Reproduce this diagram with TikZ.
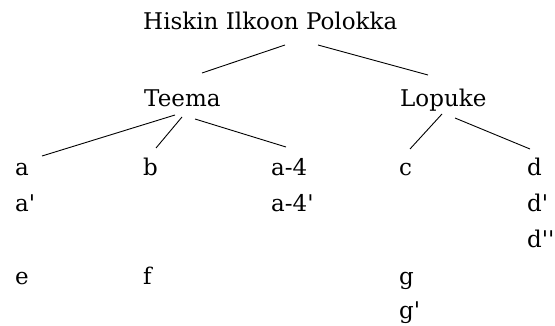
\documentclass[tikz,border=0pt]{standalone}
\usepackage{fontspec}
\setmainfont{DejaVu Serif}[Ligatures=TeXOff]
\begin{document}
\begin{tikzpicture}[x=1pt,y=-1pt,
  lbl/.style={anchor=base west,inner sep=0pt,font=\fontsize{23}{27}\selectfont},
  edge/.style={line width=0.9pt}]
\useasboundingbox (0,0) rectangle (555,326);
% texts
\node[lbl] (title) at (143,30) {Hiskin Ilkoon Polokka};
\node[lbl] (teema) at (144,107) {Teema};
\node[lbl] (lopuke) at (400,107) {Lopuke};
\node[lbl] (a) at (15,176) {a};
\node[lbl] (a1) at (15,212) {a'};
\node[lbl] (e) at (15,284) {e};
\node[lbl] (b) at (143,176) {b};
\node[lbl] (f) at (143,284) {f};
\node[lbl] (a4) at (271,176) {a-4};
\node[lbl] (a41) at (271,212) {a-4'};
\node[lbl] (c) at (399,176) {c};
\node[lbl] (g) at (399,284) {g};
\node[lbl] (g1) at (399,319) {g'};
\node[lbl] (d) at (527,176) {d};
\node[lbl] (d1) at (527,212) {d'};
\node[lbl] (d2) at (527,248) {d''};
% connector end points
\coordinate (t1) at (285,45);
\coordinate (t2) at (318,45);
\coordinate (te1) at (202,73);
\coordinate (lo1) at (428,75);
\coordinate (ts1) at (175,115);
\coordinate (ts2) at (182,117);
\coordinate (ts3) at (195,119);
\coordinate (ae) at (42,156);
\coordinate (be) at (156,148);
\coordinate (a4e) at (286,147);
\coordinate (ls1) at (442,114);
\coordinate (ls2) at (455,118);
\coordinate (ce) at (410,149);
\coordinate (de) at (530,149);
% connectors
\draw[edge] (t1) -- (te1);
\draw[edge] (t2) -- (lo1);
\draw[edge] (ts1) -- (ae);
\draw[edge] (ts2) -- (be);
\draw[edge] (ts3) -- (a4e);
\draw[edge] (ls1) -- (ce);
\draw[edge] (ls2) -- (de);
\end{tikzpicture}
\end{document}
